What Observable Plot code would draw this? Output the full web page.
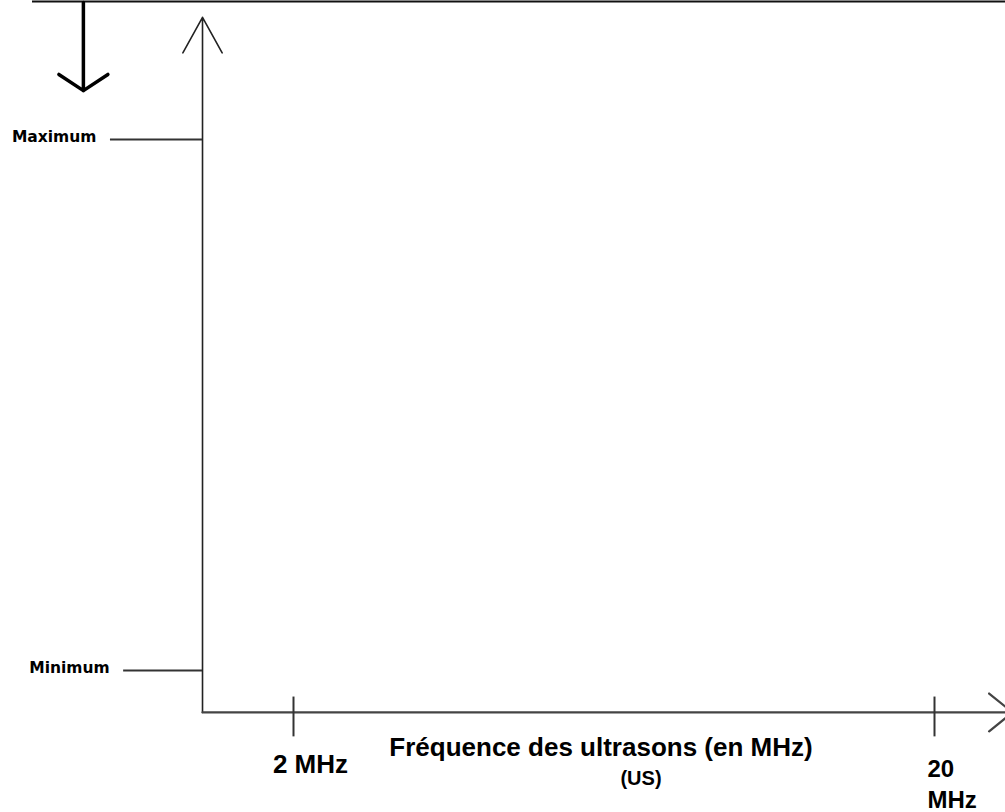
<!DOCTYPE html>
<html><head><meta charset="utf-8">
<script src="https://cdn.jsdelivr.net/npm/d3@7"></script>
<script src="https://cdn.jsdelivr.net/npm/@observablehq/plot@0.6"></script>
<style>html,body{margin:0;padding:0;background:#fff;overflow:hidden}</style>
</head><body><div id="chart"></div>
<script>
// ---- data (frequency in MHz, level: 0 = Minimum, 1 = Maximum) ----
const freqTicks = [2, 20];
const freqTickLabels = ["2 MHz", "20\nMHz"];
const levelValues = [1, 0];
const levelLabels = ["Maximum", "Minimum"];
const levelLeaderStart = [-3.14, -2.77];
const xAxisTitle = "Fréquence des ultrasons (en MHz)";
const xAxisSubtitle = "(US)";
const axisOriginFreq = -0.555;
const axisOriginLevel = -0.079;
const axisEndFreq = 22.19;
const axisEndLevel = 1.23;
const tickLevelTop = -0.05;
const tickLevelBottom = -0.125;
const headerRuleLevel = 1.2599;
const trendArrowFreq = -3.9;
const trendArrowFrom = 1.258;
const trendArrowTo = 1.092;

// ---- tables built from the arrays ----
const levelData = levelValues.map((v, i) => ({level: v, label: levelLabels[i], start: levelLeaderStart[i], end: axisOriginFreq}));
const tickData = freqTicks.map((f, i) => ({freq: f, label: freqTickLabels[i], top: tickLevelTop, bottom: tickLevelBottom, base: axisOriginLevel}));
const yAxis = [{x1: axisOriginFreq, y1: axisOriginLevel, x2: axisOriginFreq, y2: axisEndLevel}];
const xAxis = [{x1: axisOriginFreq, y1: axisOriginLevel, x2: axisEndFreq, y2: axisOriginLevel}];
const trend = [{x: trendArrowFreq, y1: trendArrowFrom, y2: trendArrowTo}];
const titleData = [{freq: d3.mean(freqTicks), level: axisOriginLevel}];

const font = "Liberation Sans, Arial, sans-serif";

const chart = Plot.plot({
  width: 1005,
  height: 812,
  marginTop: 1,
  marginLeft: 32,
  marginRight: 0,
  marginBottom: 0,
  x: {domain: [2, 20], range: [293, 934], axis: null},
  y: {domain: [0, 1], range: [670, 139], axis: null},
  marks: [
    Plot.ruleY([headerRuleLevel], {stroke: "#111", strokeWidth: 2}),
    Plot.arrow(trend, {x1: "x", x2: "x", y1: "y1", y2: "y2", stroke: "#000", strokeWidth: 3.5, headAngle: 113, headLength: 12.9}),
    Plot.arrow(yAxis, {x1: "x1", y1: "y1", x2: "x2", y2: "y2", stroke: "#222", strokeWidth: 1.6, headAngle: 58, headLength: 38}),
    Plot.arrow(xAxis, {x1: "x1", y1: "y1", x2: "x2", y2: "y2", stroke: "#444", strokeWidth: 2.3, headAngle: 78, headLength: 19.6}),
    Plot.ruleX(tickData, {x: "freq", y1: "top", y2: "bottom", stroke: "#333", strokeWidth: 2}),
    Plot.ruleY(levelData, {y: "level", x1: "start", x2: "end", stroke: "#333", strokeWidth: 2}),
    Plot.text(levelData, {x: "start", y: "level", text: "label", textAnchor: "end", dx: -14, dy: -2,
      fontFamily: "DejaVu Sans, sans-serif", fontWeight: "bold", fontSize: 15.5, fill: "#000"}),
    Plot.text(tickData.slice(0, 1), {x: "freq", y: "base", text: "label", textAnchor: "middle", lineAnchor: "top",
      dx: 17, dy: 42, fontFamily: font, fontWeight: "bold", fontSize: 26, fill: "#000"}),
    Plot.text(tickData.slice(1), {x: "freq", y: "base", text: "label", textAnchor: "start", lineAnchor: "top",
      dx: -7, dy: 43, lineHeight: 1.28, fontFamily: font, fontWeight: "bold", fontSize: 24, fill: "#000"}),
    Plot.text(titleData, {x: "freq", y: "level", text: () => xAxisTitle, textAnchor: "middle", lineAnchor: "top",
      dx: -13, dy: 25, fontFamily: font, fontWeight: "bold", fontSize: 26, fill: "#000"}),
    Plot.text(titleData, {x: "freq", y: "level", text: () => xAxisSubtitle, textAnchor: "middle", lineAnchor: "top",
      dx: 27, dy: 58, fontFamily: font, fontWeight: "bold", fontSize: 20, fill: "#000"})
  ]
});
document.getElementById("chart").appendChild(chart);
</script>
</body></html>
